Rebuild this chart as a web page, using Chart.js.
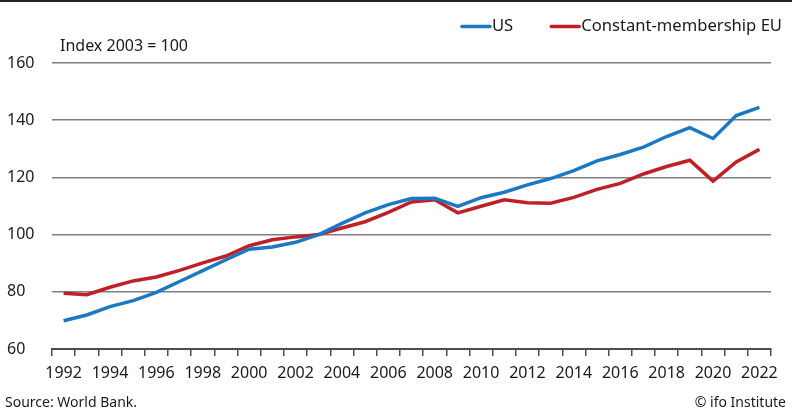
<!DOCTYPE html>
<html>
<head>
<meta charset="utf-8">
<script src="https://cdn.jsdelivr.net/npm/chart.js@4"></script>
<style>
html,body{margin:0;padding:0;background:#fff}
#wrap{width:792px;height:412px;position:relative}
</style>
</head>
<body>
<div id="wrap"><canvas id="c" width="792" height="412"></canvas></div>
<script>
const years=[];for(let y=1992;y<=2022;y++)years.push(String(y));
const us=[69.9,71.9,74.8,76.9,79.8,83.6,87.4,91.2,94.9,95.7,97.3,100,103.9,107.6,110.5,112.6,112.7,109.9,112.9,114.8,117.4,119.6,122.4,125.8,128,130.6,134.3,137.4,133.6,141.6,144.5];
const eu=[79.5,79.0,81.6,83.8,85.2,87.5,90.1,92.5,96.1,98.2,99.2,100,102.3,104.5,107.8,111.4,112.2,107.6,109.9,112.2,111.1,111.0,113.0,115.8,117.9,121.2,123.8,126.0,118.7,125.4,129.8];
const yTicks=[60,80,100,120,140,160];
const colors={us:"#1b79c4",eu:"#bf2026",grid:"#808080",axis:"#4d4d4d",text:"#1a1a1a"};
const font="'Noto Sans', sans-serif";

const extras={id:"extras",afterDraw(ch){
  const c=ch.ctx;c.save();
  c.fillStyle="#222";c.fillRect(0,0,792,2);
  c.fillStyle=colors.text;c.textBaseline="middle";
  c.font="16px "+font;c.textAlign="left";
  c.fillText("Index 2003 = 100",60,46);
  // legend, right aligned
  c.font="16.6px "+font;
  let x=782;
  const items=ch.data.datasets.slice().reverse();
  items.forEach(ds=>{
    const w=c.measureText(ds.label).width;
    c.fillStyle=colors.text;c.fillText(ds.label,x-w,26);
    const lx=x-w-2;
    c.strokeStyle=ds.borderColor;c.lineWidth=3.5;c.lineCap="round";
    c.beginPath();c.moveTo(lx-28,26.5);c.lineTo(lx,26.5);c.stroke();
    x=lx-28-38;
  });
  c.font="14px "+font;c.textBaseline="alphabetic";c.fillStyle=colors.text;
  c.textAlign="left";c.fillText("Source: World Bank.",5,407);
  c.textAlign="right";c.fillText("\u00a9 ifo Institute",786,407);
  c.restore();
}};

new Chart("c",{type:"line",
  data:{labels:years,datasets:[
    {label:"US",data:us,borderColor:colors.us,borderWidth:3.5,pointRadius:0,tension:0},
    {label:"Constant-membership EU",data:eu,borderColor:colors.eu,borderWidth:3.5,pointRadius:0,tension:0}
  ]},
  options:{responsive:false,animation:false,
    layout:{padding:{left:7,right:21,top:63,bottom:0}},
    plugins:{legend:{display:false},tooltip:{enabled:false}},
    scales:{
      x:{offset:true,afterFit:s=>{s.height=63},
        grid:{offset:true,drawOnChartArea:false,tickLength:7,color:colors.axis,lineWidth:1.5},
        border:{display:true,color:colors.axis,width:2},
        ticks:{autoSkip:false,maxRotation:0,padding:8,color:colors.text,font:{family:font,size:16},
          callback:(v,i)=>i%2===0?years[i]:""}},
      y:{min:60,max:160,afterFit:s=>{s.width=45},
        afterBuildTicks:s=>{s.ticks=yTicks.map(v=>({value:v}))},
        border:{display:false},
        grid:{drawTicks:false,color:c=>c.tick&&c.tick.value===60?"rgba(0,0,0,0)":colors.grid,lineWidth:1.5},
        ticks:{crossAlign:"far",padding:0,color:colors.text,font:{family:font,size:16}}}
    }},
  plugins:[extras]});
</script>
</body>
</html>
